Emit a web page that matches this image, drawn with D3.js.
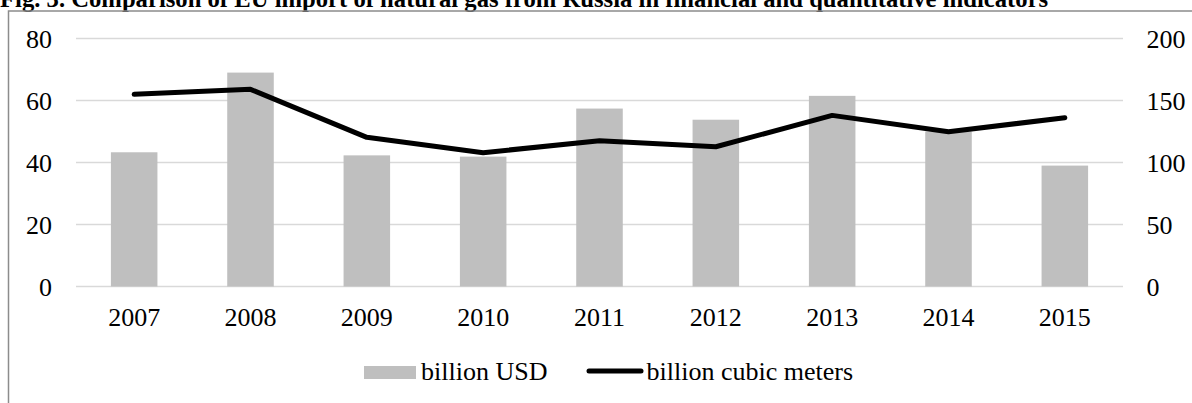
<!DOCTYPE html>
<html>
<head>
<meta charset="utf-8">
<script src="https://cdn.jsdelivr.net/npm/d3@7"></script>
<style>
  html, body { margin: 0; padding: 0; background: #fff; }
  svg { display: block; font-family: "Liberation Serif", "Times New Roman", serif; }
</style>
</head>
<body>
<svg id="chart" width="1192" height="403"></svg>
<script>
// EU imports of natural gas from Russia, 2007–2015
const years = ["2007", "2008", "2009", "2010", "2011", "2012", "2013", "2014", "2015"];
const valueUSD = [43.3, 69.0, 42.3, 41.9, 57.4, 53.8, 61.5, 50.0, 39.0];      // billion USD (left axis)
const volumeBcm = [155.0, 159.0, 120.3, 107.9, 117.6, 112.7, 138.0, 124.8, 136.1]; // billion cubic meters (right axis)
const leftTicks = [0, 20, 40, 60, 80];
const rightTicks = [0, 50, 100, 150, 200];
const seriesNames = ["billion USD", "billion cubic meters"];
const titleText = "Fig. 3. Comparison of EU import of natural gas from Russia in financial and quantitative indicators";

const svg = d3.select("#chart");
const W = 1192, H = 403;
const plot = { left: 76, right: 1123, top: 38.5, bottom: 286.5 };

// Title (bold), sized to span its line
const title = svg.append("text")
  .attr("x", 0).attr("y", 7)
  .attr("font-weight", "bold")
  .attr("font-size", 22)
  .attr("fill", "#000")
  .text(titleText);
const tw = title.node().getComputedTextLength();
title.attr("font-size", 22 * 1049 / tw);

// Chart area frame (left and top edges)
svg.append("path")
  .attr("d", `M8.5,${H} V11 H${W}`)
  .attr("fill", "none")
  .attr("stroke", "#8c8c8c")
  .attr("stroke-width", 1.5);

const x = d3.scaleBand()
  .domain(years)
  .range([plot.left, plot.right])
  .paddingInner(0.6)
  .paddingOuter(0.3);

const yL = d3.scaleLinear().domain([0, 80]).range([plot.bottom, plot.top]);
const yR = d3.scaleLinear().domain([0, 200]).range([plot.bottom, plot.top]);

// Gridlines
svg.append("g")
  .selectAll("line")
  .data(leftTicks)
  .join("line")
  .attr("x1", plot.left).attr("x2", plot.right)
  .attr("y1", d => yL(d)).attr("y2", d => yL(d))
  .attr("stroke", "#d9d9d9")
  .attr("stroke-width", 1.4);

// Left axis labels
const leftAxis = d3.axisLeft(yL).tickValues(leftTicks).tickSize(0).tickPadding(0);
svg.append("g")
  .attr("transform", "translate(52,0)")
  .call(leftAxis)
  .call(g => g.select(".domain").remove())
  .call(g => g.selectAll("text")
    .attr("font-family", "Liberation Serif, Times New Roman, serif")
    .attr("font-size", 26)
    .attr("fill", "#000")
    .attr("dy", "0.33em"));

// Right axis labels
const rightAxis = d3.axisRight(yR).tickValues(rightTicks).tickSize(0).tickPadding(0);
svg.append("g")
  .attr("transform", "translate(1146.5,0)")
  .call(rightAxis)
  .call(g => g.select(".domain").remove())
  .call(g => g.selectAll("text")
    .attr("font-family", "Liberation Serif, Times New Roman, serif")
    .attr("font-size", 26)
    .attr("fill", "#000")
    .attr("dy", "0.33em"));

// Bars: billion USD
svg.append("g")
  .selectAll("rect")
  .data(years.map((y, i) => ({ year: y, v: valueUSD[i] })))
  .join("rect")
  .attr("x", d => x(d.year))
  .attr("width", x.bandwidth())
  .attr("y", d => yL(d.v))
  .attr("height", d => yL(0) - yL(d.v))
  .attr("fill", "#bfbfbf");

// Line: billion cubic meters
const line = d3.line()
  .x(d => x(d.year) + x.bandwidth() / 2)
  .y(d => yR(d.v));
svg.append("path")
  .datum(years.map((y, i) => ({ year: y, v: volumeBcm[i] })))
  .attr("d", line)
  .attr("fill", "none")
  .attr("stroke", "#000")
  .attr("stroke-width", 5)
  .attr("stroke-linejoin", "round")
  .attr("stroke-linecap", "round");

// Category axis labels
const bottomAxis = d3.axisBottom(x).tickSize(0).tickPadding(0);
svg.append("g")
  .attr("transform", "translate(0,326)")
  .call(bottomAxis)
  .call(g => g.select(".domain").remove())
  .call(g => g.selectAll("text")
    .attr("font-family", "Liberation Serif, Times New Roman, serif")
    .attr("font-size", 26)
    .attr("fill", "#000")
    .attr("dy", 0)
    .attr("y", 0));

// Legend
const legend = svg.append("g");
legend.append("rect")
  .attr("x", 364).attr("y", 366)
  .attr("width", 52).attr("height", 13)
  .attr("fill", "#bfbfbf");
legend.append("text")
  .attr("x", 421).attr("y", 380)
  .attr("font-size", 26)
  .attr("fill", "#000")
  .text(seriesNames[0]);
legend.append("line")
  .attr("x1", 589).attr("x2", 641)
  .attr("y1", 371).attr("y2", 371)
  .attr("stroke", "#000")
  .attr("stroke-width", 5)
  .attr("stroke-linecap", "round");
legend.append("text")
  .attr("x", 646.5).attr("y", 380)
  .attr("font-size", 26)
  .attr("fill", "#000")
  .text(seriesNames[1]);
</script>
</body>
</html>
